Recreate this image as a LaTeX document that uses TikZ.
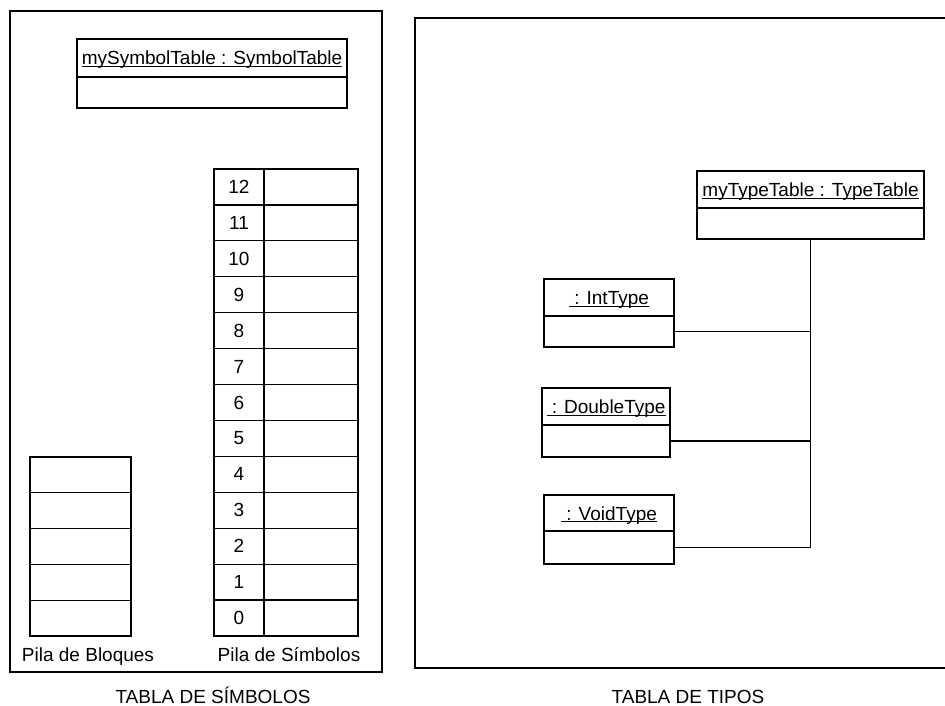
\documentclass[tikz,border=0pt]{standalone}
\usepackage{fontspec}
\setmainfont{Liberation Sans}
\newcommand{\myul}[1]{\setbox0\hbox{#1}\rlap{\rule[-2.2bp]{\wd0}{1bp}}\box0}
\begin{document}
\begin{tikzpicture}[x=1bp,y=-1bp,
  frame/.style={draw, line width=1.5bp},
  cellbox/.style={draw, line width=1.2bp, inner sep=0pt, outer sep=0pt, rectangle},
  conn/.style={draw, line width=1.1bp},
  txt/.style={font=\fontsize{19bp}{22bp}\selectfont, inner sep=0pt},
  hdr/.style={cellbox, txt, minimum height=37bp, text height=17bp, text depth=3bp},
  bdy/.style={cellbox, minimum height=32bp, anchor=north},
]
\useasboundingbox (0,0) rectangle (945,706);

% frames
\draw[frame] (10,11) rectangle (382,672);
\draw[frame] (946,18) -- (415,18) -- (415,668) -- (946,668);

% symbol table object
\node[hdr, minimum width=270bp, minimum height=38bp] (st) at (212,58) {\myul{mySymbolTable : SymbolTable}};
\node[bdy, minimum width=270bp, minimum height=31bp] (stb) at (st.south) {};

% symbol stack
\foreach \i in {0,...,12}{
  \node[cellbox, txt, minimum width=50bp, minimum height=35.92bp] (n\i) at (239,{636-35.92*(\i+0.5)}) {\i};
  \node[cellbox, minimum width=94bp, minimum height=35.92bp] (v\i) at (311,{636-35.92*(\i+0.5)}) {};
}

% block stack
\foreach \i in {0,...,4}{
  \node[cellbox, minimum width=101bp, minimum height=35.8bp] (b\i) at (80.5,{636-35.8*(\i+0.5)}) {};
}

% labels
\node[txt, anchor=base] (lb) at (88,661) {Pila de Bloques};
\node[txt, anchor=base] (ls) at (289,661) {Pila de Símbolos};
\node[txt, anchor=base] (tl) at (213,703) {TABLA DE SÍMBOLOS};
\node[txt, anchor=base] (tr) at (688,703) {TABLA DE TIPOS};

% type table objects
\node[hdr, minimum width=227bp] (tt) at (810.5,189.5) {\myul{myTypeTable : TypeTable}};
\node[bdy, minimum width=227bp, minimum height=31bp] (ttb) at (tt.south) {};

\node[hdr, minimum width=130bp] (it) at (609,297.5) {\myul{\ : IntType}};
\node[bdy, minimum width=130bp, minimum height=31bp] (ib) at (it.south) {};

\node[hdr, minimum width=128bp] (dt) at (606,406.5) {\myul{\ : DoubleType}};
\node[bdy, minimum width=128bp] (db) at (dt.south) {};

\node[hdr, minimum width=130bp, minimum height=36bp] (vt) at (609,513) {\myul{\ : VoidType}};
\node[bdy, minimum width=130bp, minimum height=33bp] (vb) at (vt.south) {};

% connectors
\draw[conn] (ttb.south) -- (ttb.south |- vb.east) -- (vb.east);
\draw[conn] (ib.east) -- (ib.east -| ttb.south);
\draw[conn] (db.east) -- (db.east -| ttb.south);
\end{tikzpicture}
\end{document}
